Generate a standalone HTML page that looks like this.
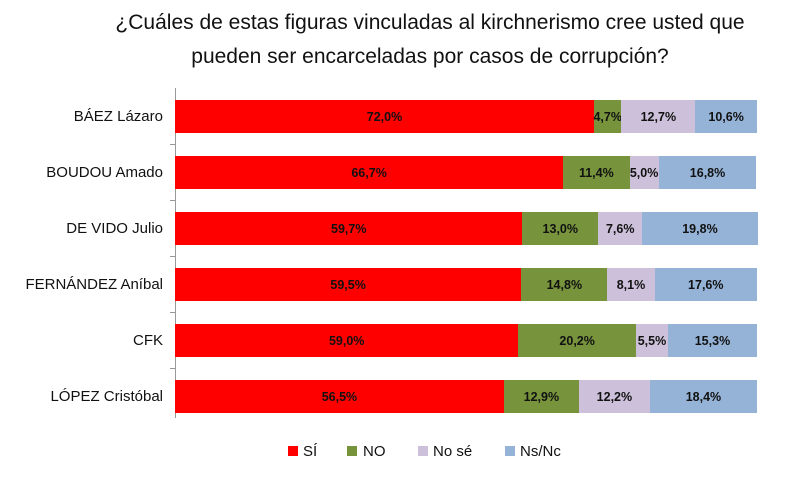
<!DOCTYPE html><html><head><meta charset="utf-8"><style>
body{margin:0;width:800px;height:479px;background:#fff;font-family:"Liberation Sans",sans-serif;position:relative;overflow:hidden}
.t{position:absolute;left:100px;width:660px;text-align:center;font-size:21px;color:#111;line-height:34px;top:6px}
.lab{position:absolute;right:637px;font-size:15px;color:#111;white-space:nowrap}
.bar{position:absolute;height:33px;display:flex;align-items:center;justify-content:center;font-size:12.5px;font-weight:bold;color:#111}
.ax{position:absolute;left:175px;top:88px;width:1px;height:330px;background:#999}
.tk{position:absolute;left:170px;width:5px;height:1px;background:#999}
.lg{position:absolute;top:443px;font-size:15px;color:#111}
.sq{position:absolute;top:446px;width:10px;height:10px}
</style></head><body>
<div class="t">¿Cuáles de estas figuras vinculadas al kirchnerismo cree usted que<br>pueden ser encarceladas por casos de corrupción?</div>
<div class="ax"></div>
<div id="c"></div>
<div class="sq" style="left:288px;background:#f00"></div><div class="lg" style="left:303px">SÍ</div>
<div class="sq" style="left:347px;background:#77933c"></div><div class="lg" style="left:363px">NO</div>
<div class="sq" style="left:418px;background:#ccc0da"></div><div class="lg" style="left:433px">No sé</div>
<div class="sq" style="left:505px;background:#95b3d7"></div><div class="lg" style="left:520px">Ns/Nc</div>
<script>
var d=[["BÁEZ Lázaro",72.0,4.7,12.7,10.6],["BOUDOU Amado",66.7,11.4,5.0,16.8],["DE VIDO Julio",59.7,13.0,7.6,19.8],["FERNÁNDEZ Aníbal",59.5,14.8,8.1,17.6],["CFK",59.0,20.2,5.5,15.3],["LÓPEZ Cristóbal",56.5,12.9,12.2,18.4]];
var col=["#ff0000","#77933c","#ccc0da","#95b3d7"],h="";
d.forEach(function(r,i){var top=100+i*56,x=175;
h+='<div class="lab" style="top:'+(top+8)+'px">'+r[0]+'</div>';
if(i<5)h+='<div class="tk" style="top:'+(top+44)+'px"></div>';
for(var j=0;j<4;j++){var w=r[j+1]*5.82;h+='<div class="bar" style="left:'+x+'px;top:'+top+'px;width:'+w+'px;background:'+col[j]+'">'+r[j+1].toFixed(1).replace(".",",")+'%</div>';x+=w;}
});
document.getElementById("c").innerHTML=h;
</script>
</body></html>
